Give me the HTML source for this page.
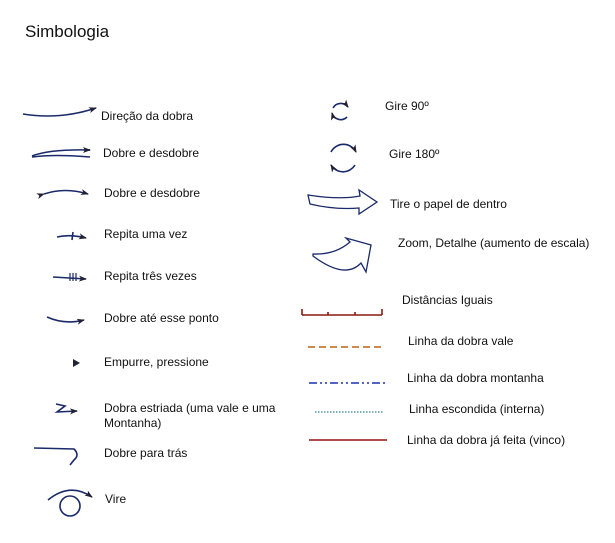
<!DOCTYPE html>
<html><head><meta charset="utf-8"><style>
html,body{margin:0;padding:0;background:#fff}
svg{display:block;font-family:"Liberation Sans",sans-serif}
text{font-size:12px;fill:#111}
</style></head><body>
<svg width="615" height="543" viewBox="0 0 615 543">
<defs><marker id="ah" markerWidth="8" markerHeight="8" refX="7" refY="4" orient="auto" markerUnits="userSpaceOnUse"><path d="M0,1 L8,4 L0,7 L2,4Z" fill="#223"/></marker></defs>
<text x="25" y="37" style="font-size:17px">Simbologia</text>
<g stroke="#1a2a6a" stroke-width="1.6" fill="none">
<path d="M23,114 Q60,120 96,108" marker-end="url(#ah)"/>
<path d="M32,156 Q50,149 90,150 M32,157 Q55,154 90,157"/>
<path d="M84,150 l6,0" marker-end="url(#ah)"/>
<path d="M44,194 Q65,187 88,194" marker-start="url(#ah)" marker-end="url(#ah)"/>
<path d="M57,237 Q70,234 86,238" marker-end="url(#ah)"/>
<path d="M73,232 l-1,8"/>
<path d="M53,277 L86,279" marker-end="url(#ah)"/>
<path d="M70,273 v8 M73,273 v8 M76,273 v8" stroke-width="1.2"/>
<path d="M47,317 Q65,325 84,320" marker-end="url(#ah)"/>
<path d="M56,404 l9,2 l-8,6 l20,-1" marker-end="url(#ah)"/>
<path d="M34,448 L74,449 Q80,455 74,460 L70,465"/>
<path d="M48,500 Q70,482 92,497" marker-end="url(#ah)"/>
<circle cx="70" cy="506" r="10"/>
<g>
<path d="M333,108 A9,9 0 0 1 348,107" marker-end="url(#ah)"/>
<path d="M347,117 A9,9 0 0 1 332,113" marker-end="url(#ah)"/>
</g>
<g>
<path d="M331,152 A14,14 0 0 1 356,152" marker-end="url(#ah)"/>
<path d="M355,165 A14,14 0 0 1 331,165" marker-end="url(#ah)"/>
</g>
<path d="M308,195 Q340,200 360,196 L359,190 L377,202 L359,214 L359,208 Q335,210 310,204 Z" stroke-width="1.3"/>
<path d="M313,254 Q335,255 350,242 L346,238 L371,245 L366,272 L361,263 Q345,280 313,256 Z" stroke-width="1.3"/>
</g>
<path d="M73,359 l7,4 l-7,4Z" fill="#223"/>
<path d="M302,315 H382 M302,309 V315 M328,312 V315 M355,312 V315 M382,309 V315" stroke="#8a1a10" stroke-width="1.6" fill="none"/>
<path d="M308,347 H384" stroke="#c06010" stroke-width="1.5" stroke-dasharray="7,4"/>
<path d="M309,383 H385" stroke="#1a30b0" stroke-width="1.5" stroke-dasharray="8,3,2,3,2,3"/>
<path d="M315,412 H383" stroke="#308090" stroke-width="1.3" stroke-dasharray="1.5,1.5"/>
<path d="M309,440 H387" stroke="#901010" stroke-width="1.6"/>
<g>
<text x="101" y="120">Direção da dobra</text>
<text x="103" y="157">Dobre e desdobre</text>
<text x="104" y="197">Dobre e desdobre</text>
<text x="104" y="238">Repita uma vez</text>
<text x="104" y="280">Repita três vezes</text>
<text x="104" y="322">Dobre até esse ponto</text>
<text x="104" y="366">Empurre, pressione</text>
<text x="104" y="412">Dobra estriada (uma vale e uma</text>
<text x="104" y="427">Montanha)</text>
<text x="104" y="457">Dobre para trás</text>
<text x="105" y="503">Vire</text>
<text x="385" y="110">Gire 90º</text>
<text x="389" y="158">Gire 180º</text>
<text x="390" y="208">Tire o papel de dentro</text>
<text x="398" y="247">Zoom, Detalhe (aumento de escala)</text>
<text x="402" y="304">Distâncias Iguais</text>
<text x="408" y="345">Linha da dobra vale</text>
<text x="407" y="382">Linha da dobra montanha</text>
<text x="409" y="413">Linha escondida (interna)</text>
<text x="407" y="444">Linha da dobra já feita (vinco)</text>
</g>
</svg>
</body></html>
